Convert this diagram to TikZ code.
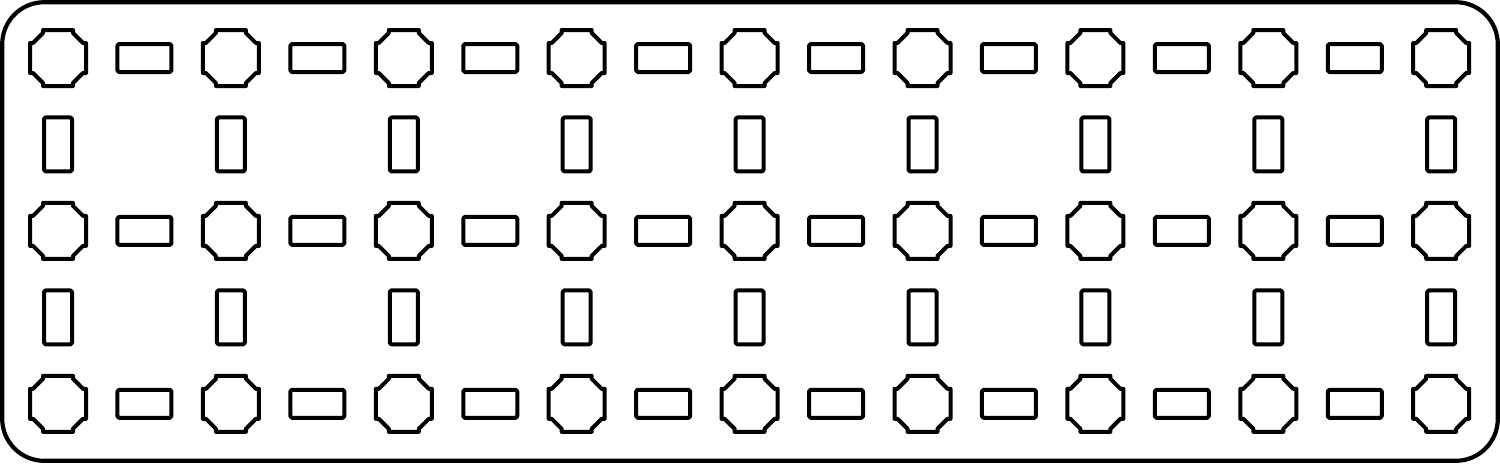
\documentclass[tikz,border=0pt]{standalone}
\begin{document}
\begin{tikzpicture}[x=0.5pt,y=-0.5pt,
  shape line/.style={draw=black,line width=2pt,line join=round},
  hbox/.style={shape line,rectangle,minimum width=27pt,minimum height=14pt,inner sep=0pt,rounded corners=0.8pt},
  vbox/.style={shape line,rectangle,minimum width=14pt,minimum height=27pt,inner sep=0pt,rounded corners=0.8pt},
  frame/.style={draw=black,line width=2.1pt,rounded corners=21pt},
  octo/.pic={
    \draw[shape line] (-15,-28)--(15,-28)--(15,-25)--(25,-15)--(28,-15)--(28,15)--(25,15)--(15,25)--(15,28)--(-15,28)--(-15,25)--(-25,15)--(-28,15)--(-28,-15)--(-25,-15)--(-15,-25)--cycle;
  }]
\useasboundingbox (0,0) rectangle (1500,463);
\draw[frame] (2.2,2.2) rectangle (1497.8,460.8);
\foreach \i in {0,...,8}{
  \foreach \j in {0,1,2}{
    \pgfmathsetmacro{\cx}{58+172.9*\i}
    \pgfmathsetmacro{\cy}{58+172.9*\j}
    \pic (oct-\i-\j) at (\cx,\cy) {octo};
  }
}
\foreach \i in {0,...,7}{
  \foreach \j in {0,1,2}{
    \pgfmathsetmacro{\cx}{58+172.9*\i+86.45}
    \pgfmathsetmacro{\cy}{58+172.9*\j}
    \node[hbox] (h-\i-\j) at (\cx,\cy) {};
  }
}
\foreach \i in {0,...,8}{
  \foreach \j in {0,1}{
    \pgfmathsetmacro{\cx}{58+172.9*\i}
    \pgfmathsetmacro{\cy}{58+172.9*\j+86.45}
    \node[vbox] (v-\i-\j) at (\cx,\cy) {};
  }
}
\end{tikzpicture}
\end{document}
